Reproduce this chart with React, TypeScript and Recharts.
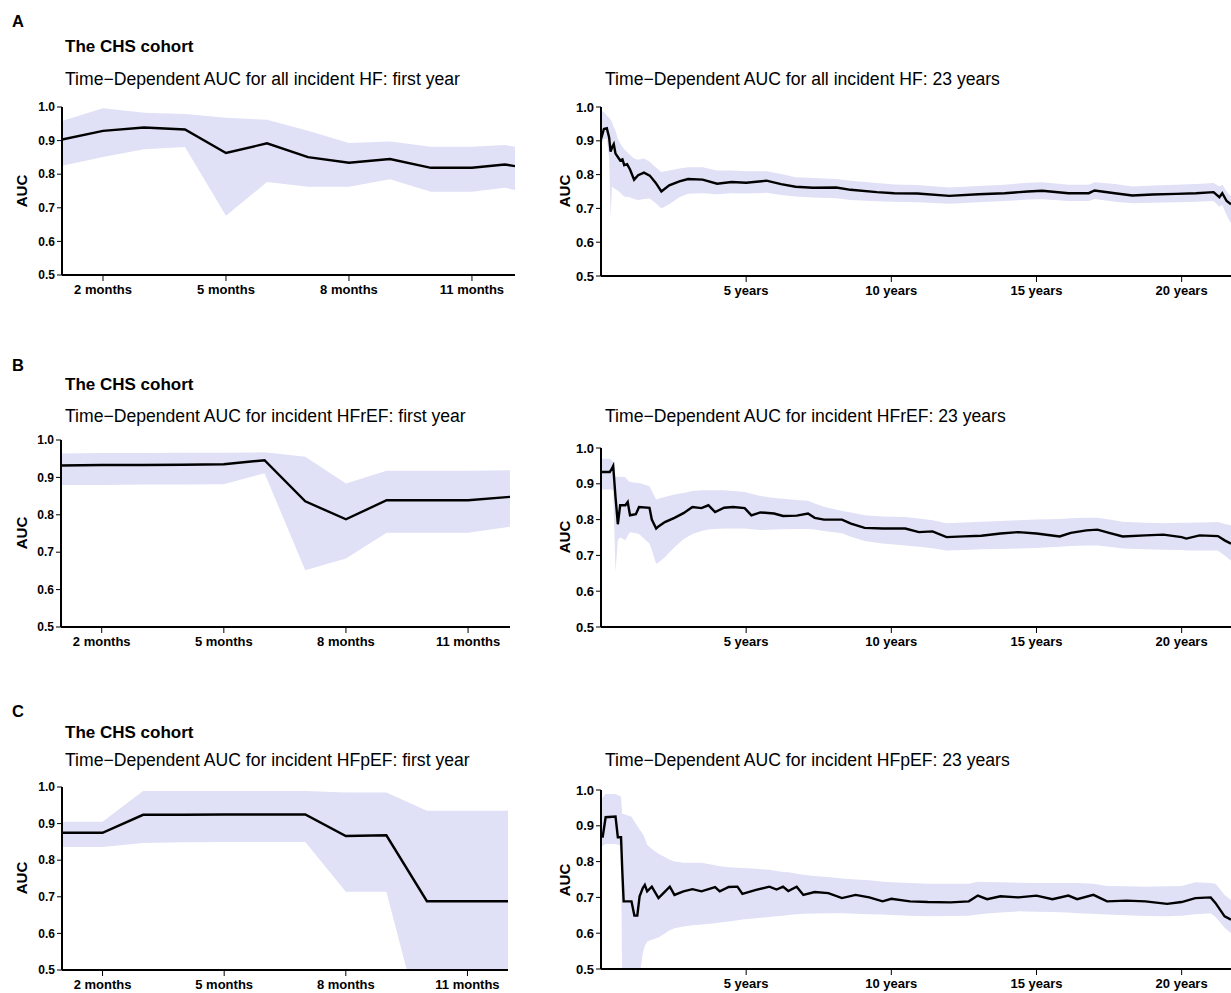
import { ComposedChart, Area, Line, XAxis, YAxis } from 'recharts';

const FONT = '"Liberation Sans", Arial, Helvetica, sans-serif';
const BAND = '#e0e0f6';

// ---- A: all incident HF ----
const aMonths = [1, 2, 3, 4, 5, 6, 7, 8, 9, 10, 11, 11.8, 12.05];
const aMonthAuc = [0.903, 0.929, 0.939, 0.933, 0.863, 0.892, 0.851, 0.834, 0.845, 0.819, 0.819, 0.829, 0.824];
const aMonthLo = [0.825, 0.851, 0.874, 0.881, 0.676, 0.777, 0.763, 0.763, 0.785, 0.748, 0.748, 0.76, 0.753];
const aMonthHi = [0.958, 0.996, 0.983, 0.979, 0.968, 0.962, 0.929, 0.893, 0.897, 0.882, 0.882, 0.887, 0.882];

const aYears = [0, 0.1, 0.2, 0.28, 0.33, 0.38, 0.44, 0.5, 0.58, 0.66, 0.74, 0.8, 0.9, 1.0, 1.14, 1.28, 1.48, 1.68, 1.88, 2.08, 2.35, 2.7, 3.0, 3.5, 4.0, 4.5, 5.0, 5.7, 6.2, 6.7, 7.3, 8.1, 8.6, 9.5, 10.1, 10.9, 12.0, 13.0, 13.9, 14.7, 15.2, 16.1, 16.8, 17.0, 17.7, 18.3, 19.0, 19.8, 20.5, 21.1, 21.3, 21.4, 21.55, 21.7];
const aYearAuc = [0.905, 0.935, 0.937, 0.91, 0.868, 0.88, 0.89, 0.862, 0.852, 0.842, 0.845, 0.828, 0.831, 0.815, 0.785, 0.798, 0.806, 0.797, 0.776, 0.75, 0.768, 0.78, 0.787, 0.785, 0.773, 0.778, 0.776, 0.782, 0.772, 0.764, 0.761, 0.762, 0.755, 0.748, 0.745, 0.744, 0.737, 0.742, 0.745, 0.75, 0.752, 0.745, 0.745, 0.753, 0.745, 0.738, 0.741, 0.743, 0.745, 0.748, 0.733, 0.745, 0.722, 0.712];
const aYearLo = [0.89, 0.905, 0.905, 0.85, 0.675, 0.765, 0.76, 0.757, 0.753, 0.747, 0.74, 0.735, 0.734, 0.733, 0.728, 0.725, 0.728, 0.729, 0.716, 0.7, 0.712, 0.733, 0.743, 0.745, 0.742, 0.745, 0.744, 0.746, 0.74, 0.735, 0.732, 0.73, 0.725, 0.721, 0.72, 0.718, 0.714, 0.718, 0.722, 0.726, 0.727, 0.722, 0.722, 0.728, 0.72, 0.715, 0.717, 0.718, 0.72, 0.722, 0.705, 0.71, 0.68, 0.655];
const aYearHi = [0.99, 0.985, 0.975, 0.968, 0.962, 0.955, 0.94, 0.93, 0.905, 0.893, 0.882, 0.875, 0.867, 0.858, 0.848, 0.844, 0.848, 0.838, 0.822, 0.808, 0.812, 0.818, 0.822, 0.822, 0.812, 0.812, 0.81, 0.81, 0.802, 0.792, 0.79, 0.787, 0.782, 0.775, 0.771, 0.769, 0.762, 0.766, 0.77, 0.776, 0.777, 0.77, 0.77, 0.777, 0.772, 0.765, 0.768, 0.77, 0.772, 0.775, 0.765, 0.77, 0.75, 0.735];

// ---- B: incident HFrEF ----
const bMonths = [1, 2, 3, 4, 5, 6, 7, 8, 9, 10, 11, 12.03];
const bMonthAuc = [0.932, 0.933, 0.933, 0.934, 0.935, 0.946, 0.836, 0.788, 0.839, 0.839, 0.839, 0.848];
const bMonthLo = [0.88, 0.88, 0.881, 0.881, 0.882, 0.911, 0.652, 0.683, 0.752, 0.752, 0.752, 0.768];
const bMonthHi = [0.964, 0.965, 0.965, 0.966, 0.966, 0.967, 0.955, 0.884, 0.918, 0.918, 0.918, 0.919];

const bYears = [0, 0.3, 0.36, 0.42, 0.5, 0.58, 0.66, 0.84, 0.92, 1.0, 1.2, 1.31, 1.67, 1.75, 1.9, 1.98, 2.2, 2.53, 2.84, 3.15, 3.46, 3.7, 3.93, 4.24, 4.55, 4.95, 5.18, 5.49, 5.96, 6.27, 6.74, 7.13, 7.36, 7.68, 8.3, 8.61, 9.08, 9.7, 10.48, 10.95, 11.42, 11.9, 12.5, 13.1, 13.76, 14.38, 15.0, 15.8, 16.18, 16.72, 17.1, 17.5, 17.97, 18.75, 19.37, 20.0, 20.16, 20.62, 21.25, 21.48, 21.7];
const bYearAuc = [0.933, 0.933, 0.94, 0.95, 0.863, 0.787, 0.84, 0.84, 0.849, 0.812, 0.815, 0.835, 0.833, 0.8, 0.775, 0.781, 0.793, 0.805, 0.818, 0.835, 0.832, 0.84, 0.821, 0.833, 0.835, 0.832, 0.812, 0.82, 0.817, 0.81, 0.811, 0.817, 0.805, 0.8, 0.8, 0.789, 0.777, 0.775, 0.775, 0.765, 0.767, 0.751, 0.753, 0.755, 0.761, 0.765, 0.761, 0.753, 0.763, 0.77, 0.772, 0.763, 0.753, 0.756, 0.758, 0.751, 0.747, 0.756, 0.754, 0.742, 0.733];
const bYearLo = [0.884, 0.884, 0.884, 0.88, 0.654, 0.742, 0.751, 0.742, 0.755, 0.765, 0.762, 0.76, 0.733, 0.715, 0.677, 0.68, 0.695, 0.723, 0.745, 0.76, 0.768, 0.772, 0.774, 0.775, 0.775, 0.775, 0.773, 0.771, 0.772, 0.773, 0.774, 0.774, 0.772, 0.768, 0.762, 0.752, 0.74, 0.733, 0.728, 0.724, 0.72, 0.714, 0.715, 0.717, 0.718, 0.719, 0.721, 0.724, 0.726, 0.728, 0.728, 0.724, 0.719, 0.717, 0.716, 0.715, 0.714, 0.714, 0.714, 0.7, 0.686];
const bYearHi = [0.97, 0.97, 0.966, 0.961, 0.92, 0.92, 0.92, 0.918, 0.91, 0.905, 0.903, 0.902, 0.893, 0.88, 0.856, 0.858, 0.863, 0.87, 0.874, 0.88, 0.882, 0.882, 0.882, 0.882, 0.88, 0.877, 0.872, 0.866, 0.86, 0.858, 0.855, 0.853, 0.845, 0.836, 0.824, 0.82, 0.812, 0.809, 0.807, 0.803, 0.798, 0.79, 0.792, 0.794, 0.796, 0.798, 0.8, 0.802, 0.804, 0.805, 0.805, 0.8, 0.794, 0.791, 0.79, 0.791, 0.791, 0.792, 0.793, 0.788, 0.784];

// ---- C: incident HFpEF ----
const cMonths = [1, 2, 3, 4, 5, 6, 7, 8, 9, 10, 11, 12];
const cMonthAuc = [0.875, 0.875, 0.924, 0.924, 0.925, 0.925, 0.925, 0.866, 0.868, 0.688, 0.688, 0.688];
const cMonthLo = [0.836, 0.836, 0.847, 0.849, 0.85, 0.85, 0.85, 0.714, 0.714, 0.29, 0.29, 0.29];
const cMonthHi = [0.905, 0.905, 0.989, 0.989, 0.989, 0.989, 0.989, 0.985, 0.985, 0.935, 0.935, 0.935];

const cYears = [0, 0.06, 0.16, 0.5, 0.58, 0.69, 0.73, 0.78, 1.05, 1.15, 1.25, 1.33, 1.44, 1.51, 1.59, 1.75, 1.98, 2.21, 2.37, 2.53, 2.84, 3.15, 3.46, 3.93, 4.09, 4.4, 4.7, 4.87, 5.34, 5.8, 6.05, 6.27, 6.45, 6.74, 6.97, 7.36, 7.83, 8.3, 8.77, 9.24, 9.7, 10.0, 10.64, 11.26, 12.04, 12.67, 12.98, 13.3, 13.76, 14.38, 15.0, 15.55, 16.1, 16.4, 16.96, 17.43, 18.1, 18.75, 19.5, 20.0, 20.47, 21.0, 21.17, 21.48, 21.7];
const cYearAuc = [0.87, 0.87, 0.924, 0.926, 0.868, 0.868, 0.78, 0.689, 0.689, 0.649, 0.649, 0.703, 0.726, 0.735, 0.717, 0.73, 0.698, 0.717, 0.73, 0.707, 0.717, 0.723, 0.717, 0.729, 0.717, 0.729, 0.73, 0.71, 0.721, 0.73, 0.722, 0.73, 0.718, 0.73, 0.707, 0.715, 0.712, 0.698, 0.707, 0.7, 0.689, 0.696, 0.689, 0.687, 0.686, 0.689, 0.705, 0.695, 0.703, 0.7, 0.705, 0.695, 0.705, 0.695, 0.707, 0.689, 0.691, 0.689, 0.682, 0.687, 0.698, 0.7, 0.684, 0.647, 0.638];
const cYearLo = [0.837, 0.845, 0.849, 0.849, 0.847, 0.844, 0.45, 0.45, 0.45, 0.45, 0.45, 0.48, 0.545, 0.565, 0.577, 0.582, 0.588, 0.6, 0.608, 0.614, 0.619, 0.622, 0.624, 0.628, 0.63, 0.633, 0.636, 0.638, 0.642, 0.645, 0.647, 0.649, 0.651, 0.653, 0.654, 0.655, 0.656, 0.656, 0.654, 0.653, 0.652, 0.651, 0.649, 0.647, 0.648, 0.649, 0.652, 0.655, 0.658, 0.661, 0.66, 0.659, 0.658, 0.656, 0.654, 0.652, 0.65, 0.648, 0.647, 0.649, 0.653, 0.656, 0.645, 0.615, 0.6];
const cYearHi = [0.967, 0.98, 0.989, 0.989, 0.985, 0.981, 0.933, 0.933, 0.925, 0.912, 0.9, 0.89, 0.877, 0.865, 0.847, 0.835, 0.822, 0.812, 0.805, 0.8, 0.797, 0.797, 0.797, 0.79, 0.787, 0.784, 0.783, 0.782, 0.78, 0.777, 0.774, 0.771, 0.77, 0.766, 0.763, 0.76, 0.757, 0.753, 0.75, 0.748, 0.744, 0.742, 0.74, 0.738, 0.738, 0.738, 0.744, 0.743, 0.742, 0.741, 0.74, 0.74, 0.74, 0.74, 0.738, 0.732, 0.731, 0.73, 0.731, 0.732, 0.742, 0.74, 0.738, 0.707, 0.693];

const yTicks = [0.5, 0.6, 0.7, 0.8, 0.9, 1.0];
const monthTicks = [2, 5, 8, 11];
const yearTicks = [5, 10, 15, 20];

type PanelProps = {
  left: number;
  top: number;
  width: number;
  height: number;
  yw: number;
  xs: number[];
  auc: number[];
  lo: number[];
  hi: number[];
  domain: [number, number];
  ticks: number[];
  unit: string;
  yFont: number;
};

const Panel = ({ left, top, width, height, yw, xs, auc, lo, hi, domain, ticks, unit, yFont }: PanelProps) => {
  const data = xs.map((x, i) => ({ x, auc: auc[i], band: [lo[i], hi[i]] }));
  const mt = 12;
  return (
    <div style={{ position: 'absolute', left: left - yw, top: top - mt }}>
      <ComposedChart
        width={yw + width}
        height={height + mt + 30}
        data={data}
        margin={{ top: mt, right: 0, bottom: 0, left: 0 }}
      >
        <XAxis
          type='number'
          dataKey='x'
          domain={domain}
          ticks={ticks}
          allowDataOverflow
          height={30}
          tickFormatter={(v) => `${v} ${unit}`}
          axisLine={{ stroke: '#000', strokeWidth: 2 }}
          tickLine={{ stroke: '#000' }}
          tickSize={6}
          tickMargin={4}
          tick={{ fill: '#000', fontSize: 13, fontWeight: 'bold', fontFamily: FONT }}
        />
        <YAxis
          type='number'
          domain={[0.5, 1]}
          ticks={yTicks}
          allowDataOverflow
          width={yw}
          tickFormatter={(v) => v.toFixed(1)}
          axisLine={{ stroke: '#000', strokeWidth: 2 }}
          tickLine={{ stroke: '#000' }}
          tickSize={5}
          tickMargin={2}
          tick={{ fill: '#000', fontSize: yFont, fontWeight: 'bold', fontFamily: FONT }}
        />
        <Area
          type='linear'
          dataKey='band'
          stroke='none'
          fill={BAND}
          fillOpacity={1}
          isAnimationActive={false}
        />
        <Line
          type='linear'
          dataKey='auc'
          stroke='#000'
          strokeWidth={2.4}
          dot={false}
          isAnimationActive={false}
        />
      </ComposedChart>
    </div>
  );
};

const Txt = ({ x, y, size, bold, children }: any) => (
  <div
    style={{
      position: 'absolute',
      left: x,
      top: y - size * 0.6,
      fontSize: size,
      lineHeight: `${size * 1.2}px`,
      fontWeight: bold ? 'bold' : 'normal',
      whiteSpace: 'nowrap',
      color: '#000',
    }}
  >
    {children}
  </div>
);

const Auc = ({ x, y }: { x: number; y: number }) => (
  <div
    style={{
      position: 'absolute',
      left: x - 30,
      top: y - 9,
      width: 60,
      height: 18,
      lineHeight: '18px',
      textAlign: 'center',
      fontSize: 15,
      fontWeight: 'bold',
      transform: 'rotate(-90deg)',
    }}
  >
    AUC
  </div>
);

const rows = [
  { letter: 'A', letterY: 22, cohortY: 47, titleY: 80, what: 'all incident HF' },
  { letter: 'B', letterY: 366, cohortY: 385, titleY: 417, what: 'incident HFrEF' },
  { letter: 'C', letterY: 712, cohortY: 733, titleY: 761, what: 'incident HFpEF' },
];

export default function App() {
  return (
    <div
      style={{
        position: 'absolute',
        left: 0,
        top: 0,
        width: 1231,
        height: 993,
        overflow: 'hidden',
        background: '#fff',
        fontFamily: FONT,
      }}
    >
      {rows.map((r) => (
        <div key={r.letter}>
          <Txt x={12} y={r.letterY} size={16.5} bold>{r.letter}</Txt>
          <Txt x={65} y={r.cohortY} size={17} bold>The CHS cohort</Txt>
          <Txt x={65} y={r.titleY} size={17.6}>{`Time\u2212Dependent AUC for ${r.what}: first year`}</Txt>
          <Txt x={605} y={r.titleY} size={17.6}>{`Time\u2212Dependent AUC for ${r.what}: 23 years`}</Txt>
        </div>
      ))}

      <Auc x={22} y={191} />
      <Auc x={565} y={191} />
      <Auc x={22} y={533} />
      <Auc x={565} y={537} />
      <Auc x={22} y={878} />
      <Auc x={565} y={880} />

      <Panel left={62} top={107} width={453} height={168} yw={62} xs={aMonths} auc={aMonthAuc} lo={aMonthLo} hi={aMonthHi} domain={[1, 12.05]} ticks={monthTicks} unit='months' yFont={12} />
      <Panel left={601} top={107} width={630} height={169} yw={45} xs={aYears} auc={aYearAuc} lo={aYearLo} hi={aYearHi} domain={[0, 21.7]} ticks={yearTicks} unit='years' yFont={13} />

      <Panel left={61} top={440} width={449} height={187} yw={61} xs={bMonths} auc={bMonthAuc} lo={bMonthLo} hi={bMonthHi} domain={[1, 12.03]} ticks={monthTicks} unit='months' yFont={12} />
      <Panel left={601} top={448} width={630} height={179} yw={45} xs={bYears} auc={bYearAuc} lo={bYearLo} hi={bYearHi} domain={[0, 21.7]} ticks={yearTicks} unit='years' yFont={13} />

      <Panel left={62} top={787} width={446} height={183} yw={62} xs={cMonths} auc={cMonthAuc} lo={cMonthLo} hi={cMonthHi} domain={[1, 12]} ticks={monthTicks} unit='months' yFont={12} />
      <Panel left={601} top={790} width={630} height={179} yw={45} xs={cYears} auc={cYearAuc} lo={cYearLo} hi={cYearHi} domain={[0, 21.7]} ticks={yearTicks} unit='years' yFont={13} />
    </div>
  );
}
